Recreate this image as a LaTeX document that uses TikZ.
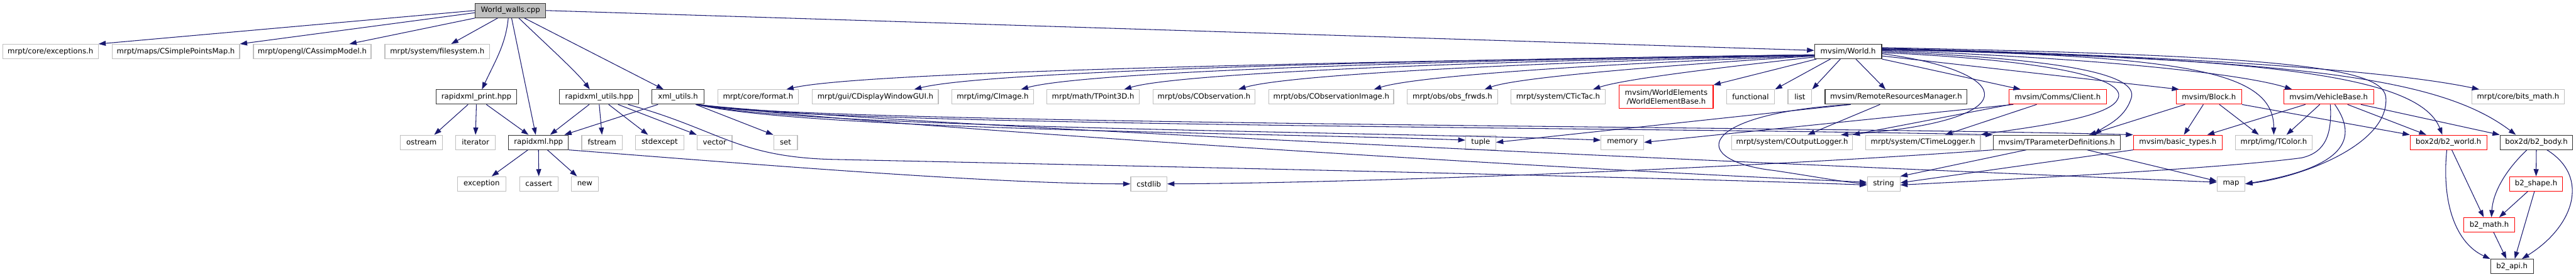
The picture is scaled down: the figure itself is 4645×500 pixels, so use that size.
\documentclass[tikz,border=0pt]{standalone}
\usepackage{fontspec}
\setmainfont{DejaVu Sans}
\usepackage{tikz}
\usetikzlibrary{arrows.meta, positioning, calc}
\definecolor{midnight}{HTML}{191970}
\definecolor{grey75}{HTML}{BFBFBF}

\begin{document}
\begin{tikzpicture}[x=1pt, y=-1pt,
  syshdr/.style={draw=grey75, fill=white, line width=1.3pt, minimum height=26pt,
    inner sep=0pt, font=\fontsize{13.3}{16}\selectfont, align=center},
  dochdr/.style={syshdr, draw=black!80},
  cuthdr/.style={syshdr, draw=red},
  rootfile/.style={syshdr, draw=black!80, fill=grey75},
  arr/.style={-{Triangle[length=13pt, width=9pt]}, draw=midnight, line width=1.2pt}
]
  \useasboundingbox (0,0) rectangle (4645,500);

  % Source file
  \node[rootfile, minimum width=127pt] (walls) at (920.5,19) {World\_walls.cpp};

  % Row 1
  \node[syshdr, minimum width=172pt] (exc) at (91,93) {mrpt/core/exceptions.h};
  \node[syshdr, minimum width=230pt] (spmap) at (317,93) {mrpt/maps/CSimplePointsMap.h};
  \node[syshdr, minimum width=212pt] (assimp) at (563,93) {mrpt/opengl/CAssimpModel.h};
  \node[syshdr, minimum width=189pt] (fsys) at (788.5,93) {mrpt/system/filesystem.h};
  \node[dochdr, minimum width=121pt] (world) at (3332.5,93) {mvsim/World.h};

  % Row 2
  \node[dochdr, minimum width=146pt] (rxprint) at (859,175) {rapidxml\_print.hpp};
  \node[dochdr, minimum width=143pt] (rxutils) at (1080.5,175) {rapidxml\_utils.hpp};
  \node[dochdr, minimum width=95pt] (xmlutils) at (1222.5,175) {xml\_utils.h};
  \node[syshdr, minimum width=146pt] (format) at (1367,175) {mrpt/core/format.h};
  \node[syshdr, minimum width=227pt] (gui) at (1578.5,175) {mrpt/gui/CDisplayWindowGUI.h};
  \node[syshdr, minimum width=148pt] (cimage) at (1790,175) {mrpt/img/CImage.h};
  \node[syshdr, minimum width=166pt] (tpoint) at (1971,175) {mrpt/math/TPoint3D.h};
  \node[syshdr, minimum width=184pt] (cobs) at (2171,175) {mrpt/obs/CObservation.h};
  \node[syshdr, minimum width=225pt] (cobsimg) at (2400.5,175) {mrpt/obs/CObservationImage.h};
  \node[syshdr, minimum width=164pt] (obsfrwds) at (2619,175) {mrpt/obs/obs\_frwds.h};
  \node[syshdr, minimum width=171pt] (tictac) at (2809.5,175) {mrpt/system/CTicTac.h};
  \node[cuthdr, minimum width=169pt, minimum height=42pt] (elembase) at (3004.5,175)
    {mvsim/WorldElements\\/WorldElementBase.h};
  \node[syshdr, minimum width=87pt] (functional) at (3156.5,175) {functional};
  \node[syshdr, minimum width=43pt] (list) at (3245.5,175) {list};
  \node[dochdr, minimum width=256pt] (remote) at (3419,175) {mvsim/RemoteResourcesManager.h};
  \node[cuthdr, minimum width=175pt] (client) at (3710.5,175) {mvsim/Comms/Client.h};
  \node[cuthdr, minimum width=118pt] (block) at (3983,175) {mvsim/Block.h};
  \node[cuthdr, minimum width=162pt] (vehicle) at (4199,175) {mvsim/VehicleBase.h};
  \node[syshdr, minimum width=167pt] (bitsmath) at (4540.5,175) {mrpt/core/bits\_math.h};

  % Row 3
  \node[syshdr, minimum width=76pt] (ostream) at (760,257) {ostream};
  \node[syshdr, minimum width=71pt] (iterator) at (857.5,257) {iterator};
  \node[dochdr, minimum width=108pt] (rapidxml) at (971,257) {rapidxml.hpp};
  \node[syshdr, minimum width=73pt] (fstream) at (1085.5,257) {fstream};
  \node[syshdr, minimum width=87pt] (stdexcept) at (1189.5,257) {stdexcept};
  \node[syshdr, minimum width=63pt] (vector) at (1288.5,257) {vector};
  \node[syshdr, minimum width=43pt] (set) at (1416.5,257) {set};
  \node[syshdr, minimum width=54pt] (tuple) at (2670,257) {tuple};
  \node[syshdr, minimum width=77pt] (memory) at (2925.5,257) {memory};
  \node[syshdr, minimum width=217pt] (outlog) at (3231.5,257) {mrpt/system/COutputLogger.h};
  \node[syshdr, minimum width=207pt] (timelog) at (3467.5,257) {mrpt/system/CTimeLogger.h};
  \node[dochdr, minimum width=229pt] (params) at (3708.5,257) {mvsim/TParameterDefinitions.h};
  \node[cuthdr, minimum width=160pt] (basictypes) at (3927,257) {mvsim/basic\_types.h};
  \node[syshdr, minimum width=138pt] (tcolor) at (4100,257) {mrpt/img/TColor.h};
  \node[cuthdr, minimum width=138pt] (b2world) at (4415,257) {box2d/b2\_world.h};
  \node[dochdr, minimum width=131pt] (b2body) at (4573.5,257) {box2d/b2\_body.h};

  % Row 4
  \node[syshdr, minimum width=87pt] (exception) at (868.5,332) {exception};
  \node[syshdr, minimum width=69pt] (cassert) at (971.5,332) {cassert};
  \node[syshdr, minimum width=49pt] (new) at (1054.5,332) {new};
  \node[syshdr, minimum width=65pt] (cstdlib) at (2071.5,332) {cstdlib};
  \node[syshdr, minimum width=59pt] (string) at (3396.5,332) {string};
  \node[syshdr, minimum width=50pt] (map) at (4023,332) {map};
  \node[cuthdr, minimum width=96pt] (b2shape) at (4573,332) {b2\_shape.h};

  % Rows 5 and 6
  \node[cuthdr, minimum width=91pt] (b2math) at (4488.5,406) {b2\_math.h};
  \node[dochdr, minimum width=77pt] (b2api) at (4529.5,481) {b2\_api.h};

  % World_walls.cpp includes
  \draw[arr] (walls.west) -- (exc.north east);
  \draw[arr] ([yshift=-4pt]walls.west) -- (spmap.north east);
  \draw[arr] (walls.south west) -- ([xshift=67pt]assimp.north);
  \draw[arr] ([xshift=-23pt]walls.south) -- ([xshift=25pt]fsys.north);
  \draw[arr] ([xshift=-4pt]walls.south) .. controls (912,80) and (893,110)
    .. ([xshift=10pt]rxprint.north);
  \draw[arr] ([xshift=2pt]walls.south) -- ([xshift=-5pt]rapidxml.north);
  \draw[arr] ([xshift=15pt]walls.south) .. controls (990,85) and (1040,130)
    .. ([xshift=-17pt]rxutils.north);
  \draw[arr] ([xshift=25pt]walls.south) -- ([xshift=-26pt]xmlutils.north);
  \draw[arr] (walls.east) -- ([yshift=2pt]world.west);

  % rapidxml headers
  \draw[arr] ([xshift=-15pt]rxprint.south) -- ([xshift=23pt]ostream.north);
  \draw[arr] (rxprint.south) -- (iterator.north);
  \draw[arr] ([xshift=18pt]rxprint.south) -- ([xshift=-18pt]rapidxml.north);
  \draw[arr] ([xshift=-18pt]rxutils.south) -- ([xshift=21pt]rapidxml.north);
  \draw[arr] (rxutils.south) -- (fstream.north);
  \draw[arr] ([xshift=17pt]rxutils.south) -- ([xshift=-21pt]stdexcept.north);
  \draw[arr] ([xshift=34pt]rxutils.south) -- (vector.north west);
  \draw[arr] ([xshift=52pt]rxutils.south) .. controls (1300,235) and (1330,285) .. (1510,288)
    .. controls (2300,305) and (3050,322) .. ([yshift=-2pt]string.west);
  \draw[arr] ([xshift=-19pt]rapidxml.south) -- ([xshift=18pt]exception.north);
  \draw[arr] (rapidxml.south) -- (cassert.north);
  \draw[arr] ([xshift=16pt]rapidxml.south) -- ([xshift=-14pt]new.north);
  \draw[arr] (rapidxml.south east) .. controls (1400,300) and (1800,332) .. (cstdlib.west);

  % xml_utils.h
  \draw[arr] ([xshift=-36pt]xmlutils.south) -- ([xshift=-8pt]rapidxml.north east);
  \draw[arr] ([xshift=32pt]xmlutils.south) -- (set.north west);
  \draw[arr] ([xshift=34pt]xmlutils.south) .. controls (1450,235) and (2300,240)
    .. ([yshift=4pt]tuple.west);
  \draw[arr] ([xshift=34pt]xmlutils.south) .. controls (1450,232) and (2500,238)
    .. ([yshift=4pt]memory.west);
  \draw[arr] ([xshift=34pt]xmlutils.south) .. controls (1450,228) and (3000,230)
    .. (params.north west);
  \draw[arr] ([xshift=34pt]xmlutils.south) .. controls (1450,225) and (3300,228)
    .. (basictypes.north west);
  \draw[arr] ([xshift=34pt]xmlutils.south) .. controls (1550,225) and (2700,300)
    .. ([yshift=3pt]string.west);
  \draw[arr] ([xshift=34pt]xmlutils.south) .. controls (1550,222) and (3100,292)
    .. ([yshift=3pt]map.west);

  % mvsim/World.h, left fan
  \draw[arr] ([yshift=-6pt]world.west) .. controls (2500,110) and (1560,128)
    .. ([xshift=51pt]format.north);
  \draw[arr] ([yshift=-6pt]world.west) .. controls (2550,108) and (1780,128)
    .. ([xshift=70pt]gui.north);
  \draw[arr] ([yshift=-6pt]world.west) .. controls (2650,108) and (1960,128)
    .. ([xshift=51pt]cimage.north);
  \draw[arr] ([yshift=-7pt]world.west) .. controls (2750,108) and (2130,130)
    .. ([xshift=56pt]tpoint.north);
  \draw[arr] ([yshift=-7pt]world.west) .. controls (2850,110) and (2330,132)
    .. ([xshift=62pt]cobs.north);
  \draw[arr] ([yshift=-8pt]world.west) .. controls (2950,112) and (2560,135)
    .. ([xshift=77pt]cobsimg.north);
  \draw[arr] ([yshift=-8pt]world.west) .. controls (3050,115) and (2740,138)
    .. ([xshift=58pt]obsfrwds.north);
  \draw[arr] ([yshift=-10pt]world.west) .. controls (3120,120) and (2930,142)
    .. ([xshift=63pt]tictac.north);
  \draw[arr] ([xshift=4pt]world.south west) -- (elembase.north east);
  \draw[arr] ([xshift=-32pt]world.south) -- (functional.north east);
  \draw[arr] ([xshift=-14pt]world.south) -- (list.north east);
  \draw[arr] ([xshift=14pt]world.south) -- ([xshift=-19pt]remote.north);

  % mvsim/World.h, right fan
  \draw[arr] (world.south east) -- ([xshift=-67pt]client.north);
  \draw[arr] ([yshift=-4pt]world.east) .. controls (3640,130) and (3660,220)
    .. ([xshift=88pt]outlog.north);
  \draw[arr] ([yshift=-2pt]world.east) .. controls (3720,110) and (3840,145) .. (3818,180)
    .. controls (3800,215) and (3640,232) .. (timelog.north east);
  \draw[arr] (world.east) .. controls (3760,108) and (3860,140) .. (3842,180)
    .. controls (3830,215) and (3795,228) .. ([xshift=68pt]params.north);
  \draw[arr] ([yshift=-8pt]world.east) -- ([xshift=6pt]block.north west);
  \draw[arr] ([yshift=2pt]world.east) .. controls (3800,105) and (4050,135)
    .. ([xshift=-66pt]vehicle.north);
  \draw[arr] ([yshift=3pt]world.east) .. controls (3950,100) and (4100,130) .. (tcolor.north);
  \draw[arr] ([yshift=6pt]world.east) .. controls (3900,100) and (4300,125)
    .. ([xshift=-70pt]bitsmath.north);
  \draw[arr] ([yshift=5pt]world.east) .. controls (4050,105) and (4360,130)
    .. ([xshift=-11pt]b2world.north);
  \draw[arr] ([yshift=4pt]world.east) .. controls (4150,108) and (4400,140)
    .. ([xshift=-37pt]b2body.north);
  \draw[arr] ([yshift=7pt]world.east) .. controls (4100,100) and (4295,120) .. (4302,175)
    .. controls (4310,260) and (4150,320) .. (map.east);

  % mvsim/RemoteResourcesManager.h
  \draw[arr] ([xshift=-29pt]remote.south) -- ([xshift=28pt]outlog.north);
  \draw[arr] ([xshift=-82pt]remote.south) -- (tuple.east);
  \draw[arr] ([xshift=-82pt]remote.south) .. controls (3060,205) and (3040,290) .. (3200,308)
    .. controls (3280,320) and (3320,328) .. (string.west);

  % mvsim/Comms/Client.h
  \draw[arr] ([xshift=-85pt]client.south) -- (outlog.north east);
  \draw[arr] ([xshift=-38pt]client.south) -- ([xshift=40pt]timelog.north);
  \draw[arr] ([xshift=-80pt]client.south) -- (memory.east);

  % mvsim/Block.h
  \draw[arr] ([xshift=-43pt]block.south) -- ([xshift=58pt]params.north);
  \draw[arr] ([xshift=-10pt]block.south) -- ([xshift=11pt]basictypes.north);
  \draw[arr] ([xshift=19pt]block.south) -- ([xshift=-27pt]tcolor.north);
  \draw[arr] (block.south east) -- (b2world.north west);

  % mvsim/VehicleBase.h
  \draw[arr] ([xshift=-42pt]vehicle.south) -- ([xshift=53pt]basictypes.north);
  \draw[arr] ([xshift=-16pt]vehicle.south) -- ([xshift=23pt]tcolor.north);
  \draw[arr] ([xshift=3pt]vehicle.south) .. controls (4205,240) and (4195,275) .. (4150,285)
    .. controls (4000,305) and (3600,325) .. ([yshift=-2pt]string.east);
  \draw[arr] ([xshift=11pt]vehicle.south) .. controls (4260,260) and (4210,305) .. (map.east);
  \draw[arr] ([xshift=34pt]vehicle.south) -- ([xshift=-40pt]b2world.north);
  \draw[arr] ([xshift=58pt]vehicle.south) -- (b2body.north west);

  % mvsim/TParameterDefinitions.h and mvsim/basic_types.h
  \draw[arr] (params.south west) .. controls (3200,300) and (2500,330) .. (cstdlib.east);
  \draw[arr] ([xshift=-55pt]params.south) -- (string.north east);
  \draw[arr] ([xshift=55pt]params.south) -- ([yshift=5pt]map.west);
  \draw[arr] (basictypes.south west) -- ([yshift=2pt]string.east);

  % box2d
  \draw[arr] ([xshift=6pt]b2world.south) -- ([xshift=-10pt]b2math.north);
  \draw[arr] ([xshift=-3pt]b2world.south) .. controls (4402,370) and (4430,440) .. (b2api.north west);
  \draw[arr] (b2body.south) -- (b2shape.north);
  \draw[arr] ([xshift=-17pt]b2body.south) .. controls (4515,310) and (4495,350)
    .. ([xshift=4pt]b2math.north);
  \draw[arr] ([xshift=19pt]b2body.south) .. controls (4672,320) and (4640,410)
    .. ([xshift=18pt]b2api.north);
  \draw[arr] ([xshift=-15pt]b2shape.south) -- ([xshift=18pt]b2math.north);
  \draw[arr] ([xshift=-3pt]b2shape.south) -- ([xshift=5pt]b2api.north);
  \draw[arr] ([xshift=8pt]b2math.south) -- ([xshift=-10pt]b2api.north);
\end{tikzpicture}
\end{document}
